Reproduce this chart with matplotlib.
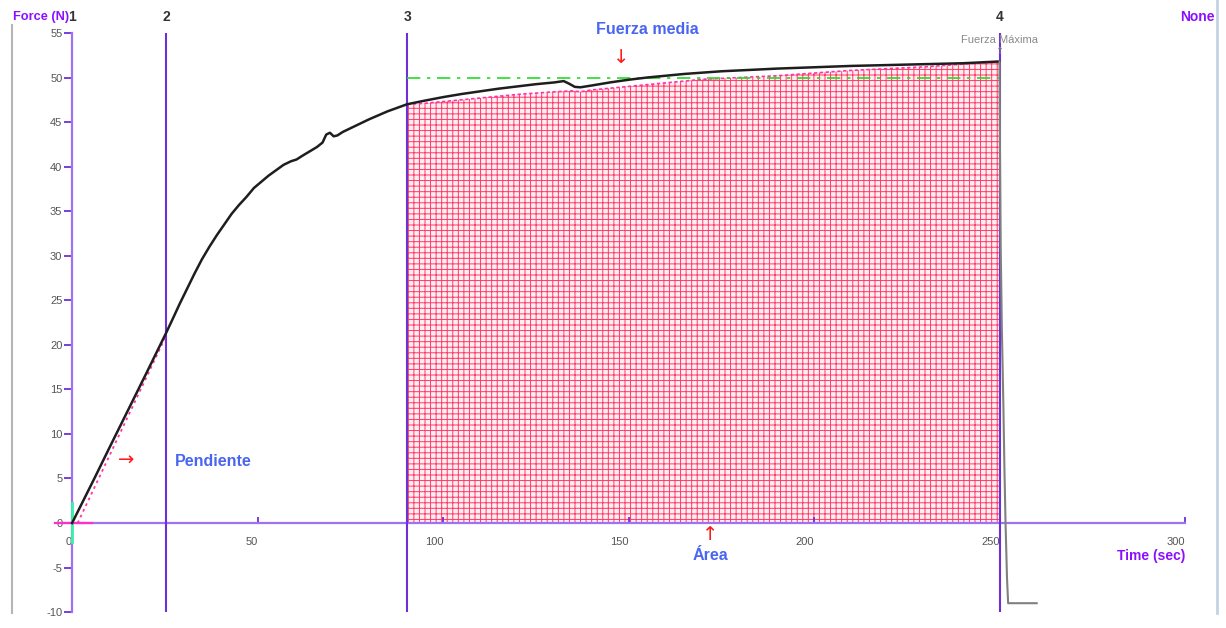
import matplotlib
matplotlib.use("Agg")
import matplotlib.pyplot as plt
from matplotlib.lines import Line2D

plt.rcParams['font.family'] = ['Liberation Sans', 'DejaVu Sans']
plt.rcParams['hatch.linewidth'] = 0.7

# ---- data ----
time_s = [0, 3, 6, 10, 15, 20, 25.3, 27, 29, 31, 33, 35, 37, 39, 41, 43, 45, 47, 49, 51,
          53, 55, 57, 59, 60.5, 62, 64, 66, 67.5, 68.5, 69.5, 70.5, 71.5, 73, 76, 80, 85,
          90.3, 95, 100, 105, 110, 115, 120, 125, 130, 132.5, 134, 135.5, 137, 140, 145,
          150, 155, 160, 165, 170, 175, 180, 190, 200, 210, 220, 230, 240, 250]
force_n = [0, 2.5, 5.0, 8.4, 12.6, 16.8, 21.3, 22.8, 24.6, 26.3, 28.0, 29.6, 31.0, 32.3,
           33.5, 34.7, 35.7, 36.6, 37.6, 38.3, 39.0, 39.6, 40.2, 40.6, 40.8, 41.2, 41.7,
           42.2, 42.7, 43.6, 43.8, 43.4, 43.5, 43.9, 44.5, 45.3, 46.2, 47.0, 47.4, 47.8,
           48.15, 48.45, 48.75, 49.0, 49.25, 49.45, 49.6, 49.3, 48.95, 48.9, 49.1, 49.45,
           49.75, 50.0, 50.2, 50.4, 50.55, 50.7, 50.8, 51.0, 51.15, 51.3, 51.4, 51.5,
           51.6, 51.8]
drop_time = [250, 250.1, 250.3, 250.6, 251.0, 251.3, 251.6, 252.0, 252.3, 260]
drop_force = [51.8, 42, 31, 22, 13.6, 6.2, 0, -6.2, -9, -9]

area_time = [90.3, 95, 100, 110, 120, 130, 135, 137, 140, 150, 160, 170, 180, 190, 200,
             210, 220, 230, 240, 250]
area_force = [47.0, 47.1, 47.3, 47.7, 48.1, 48.4, 48.5, 48.4, 48.6, 49.0, 49.4, 49.8,
              50.0, 50.2, 50.5, 50.8, 51.0, 51.2, 51.5, 51.8]

slope_time = [1.5, 25.3]
slope_force = [0, 21.0]

mean_force = 50.0
marker_times = [0, 25.3, 90.3, 250]
marker_labels = ["1", "2", "3", "4"]
xticks = [0, 50, 100, 150, 200, 250, 300]
yticks = list(range(-10, 56, 5))

AX_PURPLE = '#a072f2'
LINE_PURPLE = '#6c30d8'
TITLE_PURPLE = '#8a10ff'
BLUE = '#4a66f0'
RED = '#ff1a1a'

fig = plt.figure(figsize=(12.26, 6.28), dpi=100)
ax = fig.add_axes([12 / 1226, 15 / 628, 1205 / 1226, 613 / 628])
ax.set_xlim(-16.2, 308.6)
ax.set_ylim(-10.1, 58.7)

for s in ['top', 'right']:
    ax.spines[s].set_visible(False)
ax.spines['left'].set_position(('data', 0))
ax.spines['left'].set_bounds(-10, 55)
ax.spines['left'].set_color(AX_PURPLE)
ax.spines['left'].set_linewidth(1.6)
ax.spines['bottom'].set_position(('data', 0))
ax.spines['bottom'].set_bounds(-3, 300)
ax.spines['bottom'].set_color(AX_PURPLE)
ax.spines['bottom'].set_linewidth(1.6)

ax.set_xticks(xticks)
ax.set_xticklabels([str(v) for v in xticks])
ax.set_yticks(yticks)
ax.set_yticklabels([str(v) for v in yticks])
ax.tick_params(axis='x', direction='in', length=4, width=1.3, color=LINE_PURPLE,
               labelsize=8, labelcolor='#555555', pad=10)
ax.tick_params(axis='y', direction='out', length=6, width=1.3, color=LINE_PURPLE,
               labelsize=8, labelcolor='#555555', pad=1)
for lab in ax.get_xticklabels():
    lab.set_ha('right')

# frame lines
fig.add_artist(Line2D([12 / 1226, 12 / 1226], [15 / 628, 603 / 628], color='#b5b5b5', lw=1.5))
fig.add_artist(Line2D([1217 / 1226, 1217 / 1226], [15 / 628, 628 / 628], color='#c5d2e2', lw=2))

# hatched area
ax.fill_between(area_time, 0, area_force, facecolor='#ffeef2', edgecolor='#ff3a66',
                hatch='+++', linewidth=0, zorder=1)
ax.plot(area_time, area_force, color='#ff33aa', lw=1.2, ls=(0, (2, 1.5)), zorder=2)

# marker lines
ax.vlines(marker_times[1:], -10, 55, color=LINE_PURPLE, lw=1.5, zorder=3)
for t, lab in zip(marker_times, marker_labels):
    ax.text(t, 56.8, lab, ha='center', va='center', fontsize=10, fontweight='bold',
            color='#333333')

# mean force
ax.hlines(mean_force, marker_times[2], marker_times[3], color='#22dd22', lw=1.2,
          linestyles=[(0, (8, 4, 2, 4))], zorder=4)

# slope
ax.plot(slope_time, slope_force, color='#ff33aa', lw=1.3, ls=(0, (1.5, 2)), zorder=4)

# start markers
ax.plot([0, 0], [-2.1, 2.2], color='#3cf0a8', lw=2, zorder=5)
ax.plot([-4.6, 5.4], [0, 0], color='#ff30c8', lw=1.6, zorder=5)

# curve
ax.plot(time_s, force_n, color='#1e1e1e', lw=1.8, zorder=6, solid_joinstyle='round')
ax.plot(drop_time, drop_force, color='#808080', lw=1.5, zorder=6)

# texts
ax.text(-15.9, 56.8, "Force (N)", ha='left', va='center', fontsize=9.2,
        fontweight='bold', color=TITLE_PURPLE)
ax.text(308.0, 56.8, "None", ha='right', va='center', fontsize=10, fontweight='bold',
        color=TITLE_PURPLE)
ax.text(300, -3.7, "Time (sec)", ha='right', va='center', fontsize=10, fontweight='bold',
        color=TITLE_PURPLE)
ax.text(250, 54.2, "Fuerza Máxima", ha='center', va='center', fontsize=8,
        color='#8a8a8a')
ax.text(250, 53.0, "↑", ha='center', va='center', fontsize=7, color='#8a8a8a',
        family='DejaVu Sans')

ax.text(155, 55.4, "Fuerza media", ha='center', va='center', fontsize=11.5,
        fontweight='bold', color=BLUE)
ax.text(148, 52.3, "↓", ha='center', va='center', fontsize=14, color=RED,
        family='DejaVu Sans')
ax.text(38, 6.9, "Pendiente", ha='center', va='center', fontsize=11.5,
        fontweight='bold', color=BLUE)
ax.text(14.5, 7.0, "→", ha='center', va='center', fontsize=14, color=RED,
        family='DejaVu Sans')
ax.text(172, -3.7, "Área", ha='center', va='center', fontsize=11.5, fontweight='bold',
        color=BLUE)
ax.text(172, -1.3, "↑", ha='center', va='center', fontsize=14, color=RED,
        family='DejaVu Sans')

fig.savefig("out.png", dpi=100, facecolor='white')
